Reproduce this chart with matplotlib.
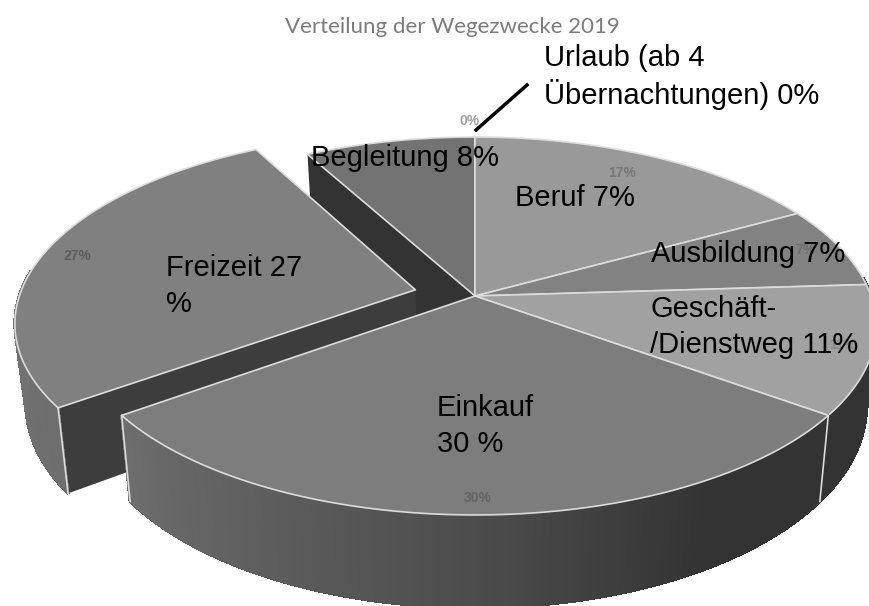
import numpy as np
import matplotlib
matplotlib.use("Agg")
import matplotlib.pyplot as plt

plt.rcParams['font.family'] = ['Liberation Sans', 'DejaVu Sans']

title = "Verteilung der Wegezwecke 2019"
categories = ["Urlaub", "Beruf", "Ausbildung", "Geschäft/Dienstweg", "Einkauf", "Freizeit", "Begleitung"]
values = [0, 17, 7, 11, 30, 27, 8]
explode = [0, 0, 0, 0, 0, 0.155, 0]
top_grays = [0.50, 0.60, 0.51, 0.63, 0.49, 0.50, 0.45]
small_labels = ["0%", "17%", "7%", "11%", "30%", "27%"]
small_colors = ["#a0a0a0", "#777777", "#6e6e6e", "#8a8a8a", "#636363", "#5c5c5c"]
big_labels = ["Urlaub (ab 4\nÜbernachtungen) 0%", "Beruf 7%", "Ausbildung 7%",
              "Geschäft-\n/Dienstweg 11%", "Einkauf\n30 %", "Freizeit 27\n%", "Begleitung 8%"]

# projection of the tilted pie, in pixels of the picture
cx, cy = 475, 296
A, B, k = 396, 184.2, 0.1587
D = 78
shrink = 0.976
edge = "#dcdcdc"


def project(u, v, low=False):
    w = 1 + k*v
    x = A*u/w
    y = -B*v/w
    if low:
        return cx + x*shrink, cy + y + D/w
    return cx + x, cy + y


def wall_gray(deg):
    return np.interp(deg, [0, 120, 150, 180, 234, 270, 331], [0.2, 0.2, 0.2, 0.3, 0.43, 0.45, 0.45])


def radial_wall(ax, ou, ov, deg, gray):
    u = np.array([ou, ou + np.sin(np.radians(deg))])
    v = np.array([ov, ov + np.cos(np.radians(deg))])
    x1, y1 = project(u, v)
    x2, y2 = project(u, v, low=True)
    ax.fill(np.r_[x1, x2[::-1]], np.r_[y1, y2[::-1]], color=str(gray), lw=0)


fig = plt.figure(figsize=(8.69, 6.06), dpi=100)
ax = fig.add_axes([0, 0, 1, 1])
ax.set_xlim(0, 869)
ax.set_ylim(606, 0)
ax.axis("off")

cum = np.cumsum([0] + values)*3.6
order = [6, 0, 1, 2, 3, 5, 4]
for i in order:
    a0, a1 = cum[i], cum[i+1]
    mid = np.radians((a0 + a1)/2)
    ou = explode[i]*np.sin(mid)
    ov = explode[i]*np.cos(mid)

    # walls along the cuts
    if i == 6:
        radial_wall(ax, ou, ov, a0, 0.2)
    if i == 5:
        radial_wall(ax, ou, ov, a1, 0.24)
        radial_wall(ax, ou, ov, a0, 0.24)

    # outer wall, one strip per step so the shading can run along it
    steps = max(int(a1 - a0), 1)
    th = np.linspace(a0, a1, steps + 1)
    for t0, t1 in zip(th[:-1], th[1:]):
        # the back half is hidden anyway
        if t0 == t1 or np.cos(np.radians((t0 + t1)/2)) > 0.1:
            continue
        t = np.radians([t0, t1])
        u = ou + np.sin(t)
        v = ov + np.cos(t)
        x1, y1 = project(u, v)
        x2, y2 = project(u, v, low=True)
        ax.fill(np.r_[x1, x2[::-1]], np.r_[y1, y2[::-1]],
                color=str(wall_gray((t0 + t1)/2)), lw=1.5, antialiased=False)

    # top face
    t = np.radians(np.linspace(a0, a1, max(steps, 2)))
    u = np.r_[ou, ou + np.sin(t)]
    v = np.r_[ov, ov + np.cos(t)]
    x, y = project(u, v)
    ax.fill(x, y, facecolor=str(top_grays[i]), edgecolor=edge, lw=1.2, joinstyle="round")

    # light seams where a wall turns the corner
    if i in (3, 4, 5):
        seam = np.radians(a1 if i == 3 else a0 if i == 5 else a1)
        su, sv = ou + np.sin(seam), ov + np.cos(seam)
        x1, y1 = project(su, sv)
        x2, y2 = project(su, sv, low=True)
        ax.plot([x1, x2], [y1, y2], color=edge, lw=1.2)

ax.text(452, 27, title, family=['Lato', 'DejaVu Sans'], fontsize=16, color="#7c7c7c",
        ha="center", va="center")

# small percent labels of the original chart
small_pos = [(470, 121), (622, 173), (805, 250), (843, 345), (478, 498), (77, 256)]
for s, c, (px, py) in zip(small_labels, small_colors, small_pos):
    ax.text(px, py, s, fontsize=10, fontweight="bold", color=c, ha="center", va="center")

# typed over labels
big_pos = [(544, 77), (515, 198), (651, 254), (650, 327), (437, 426), (166, 286), (311, 158)]
for s, (px, py) in zip(big_labels, big_pos):
    ax.text(px, py, s, fontsize=21, color="black", ha="left", va="center", linespacing=1.32)

ax.plot([476, 527], [130, 85], color="black", lw=2.5)

fig.savefig("out.png", dpi=100)
